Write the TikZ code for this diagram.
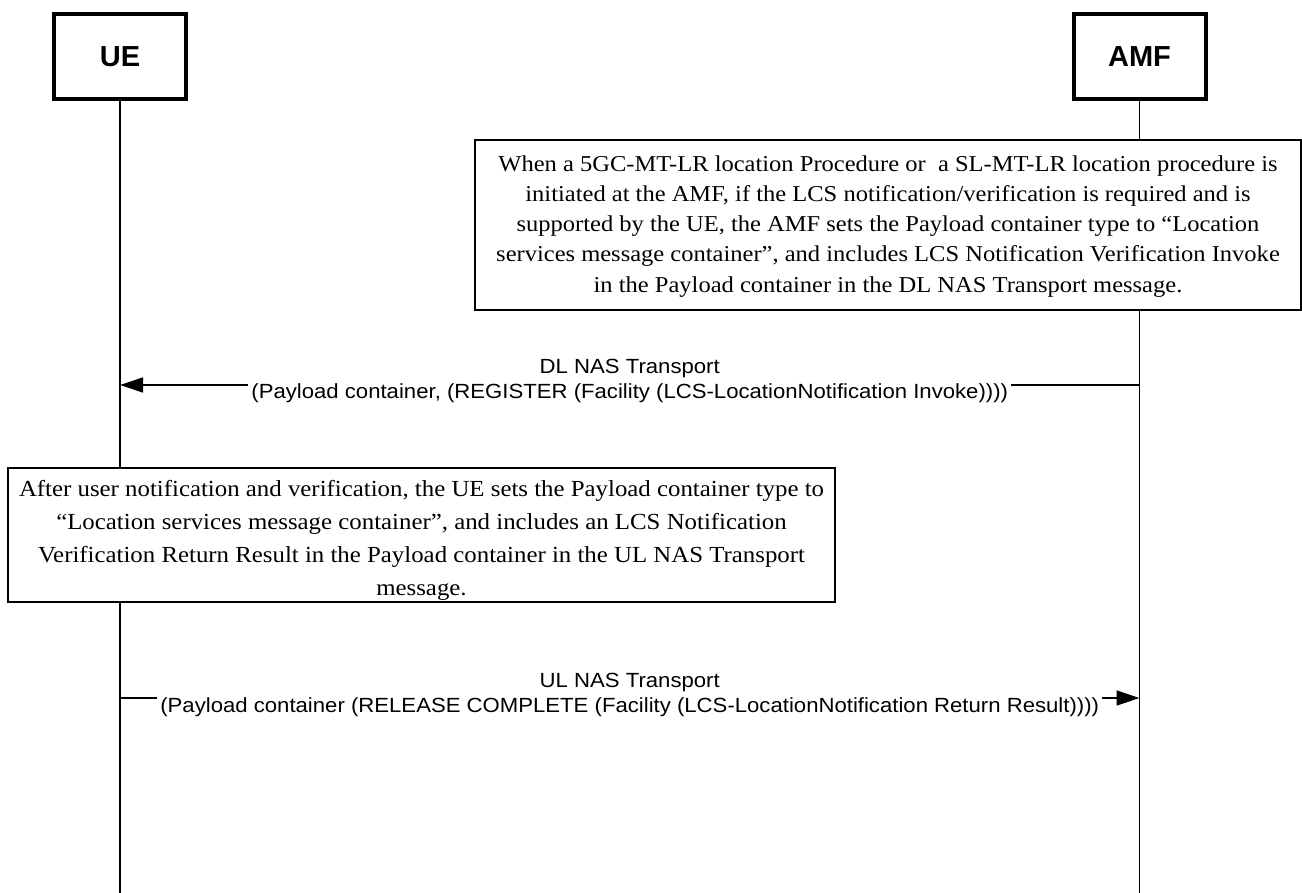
\documentclass[tikz,border=0pt]{standalone}
\usepackage{fontspec}
\setmainfont{Liberation Serif}
\newfontfamily\arialfont{Liberation Sans}
\newfontfamily\arialwide{Liberation Sans}[FakeStretch=1.08]
\newfontfamily\notefont{Liberation Serif}[FakeStretch=1.08]
\usetikzlibrary{arrows.meta}

\tikzset{
	entity/.style={draw, line width=4pt, minimum width=132pt, minimum height=85pt, inner sep=0pt, font=\arialfont\bfseries\fontsize{29}{34}\selectfont},
	lifeline/.style={line width=1.3pt},
	notebox/.style={draw, fill=white, line width=1.5pt, align=center, inner sep=0pt},
	notetext/.style={align=center, inner sep=0pt},
	msg/.style={line width=1.3pt, -{Triangle[length=23pt,width=15pt]}},
	msglabel/.style={fill=white, align=center, inner xsep=3pt, inner ysep=1pt, font=\arialwide\fontsize{20.5}{25}\selectfont},
}

\begin{document}
\begin{tikzpicture}[x=1pt, y=1pt]
			%%%%% START %%%%%
			\useasboundingbox (0, 0) rectangle (1302, -893);
			
			\node[entity] (ue) at (120, -57) {UE};
			\node[entity] (amf) at (1139.5, -57) {AMF};
			
			\coordinate (ueEnd) at (ue.south |- 0, -893);
			\coordinate (amfEnd) at (amf.south |- 0, -893);
			\draw[lifeline] (ue.south) -- (ueEnd);
			\draw[lifeline] (amf.south) -- (amfEnd);
			
			\node[notebox, minimum width=826pt, minimum height=170pt] (amfNote) at (888, -225) {};
			\node[notetext, font=\notefont\fontsize{22.7}{30}\selectfont] (amfNoteText) at ([yshift=-2pt]amfNote.center)
				{When a 5GC-MT-LR location Procedure or~ a SL-MT-LR location procedure is\\
				initiated at the AMF, if the LCS notification/verification is required and is\\
				supported by the UE, the AMF sets the Payload container type to “Location\\
				services message container”, and includes LCS Notification Verification Invoke\\[1pt]
				in the Payload container in the DL NAS Transport message.};
			
			\coordinate (dlAmf) at (amf.south |- 0, -385);
			\coordinate (dlUe) at (ue.south |- 0, -385);
			\draw[msg] (dlAmf) -- (dlUe) node[msglabel, midway, yshift=4.5pt] (dlLabel)
				{DL NAS Transport\\
				(Payload container, (REGISTER (Facility (LCS-LocationNotification Invoke))))};
			
			\node[notebox, minimum width=827pt, minimum height=134pt] (ueNote) at (421.5, -535) {};
			\node[notetext, font=\notefont\fontsize{23}{33}\selectfont] (ueNoteText) at ([yshift=-5pt]ueNote.center)
				{After user notification and verification, the UE sets the Payload container type to\\
				“Location services message container”, and includes an LCS Notification\\
				Verification Return Result in the Payload container in the UL NAS Transport\\
				message.};
			
			\coordinate (ulUe) at (ue.south |- 0, -698);
			\coordinate (ulAmf) at (amf.south |- 0, -698);
			\draw[msg] (ulUe) -- (ulAmf) node[msglabel, midway, yshift=3.5pt] (ulLabel)
				{UL NAS Transport\\
				(Payload container (RELEASE COMPLETE (Facility (LCS-LocationNotification Return Result))))};
			
			%%%%% END %%%%%
\end{tikzpicture}
\end{document}
